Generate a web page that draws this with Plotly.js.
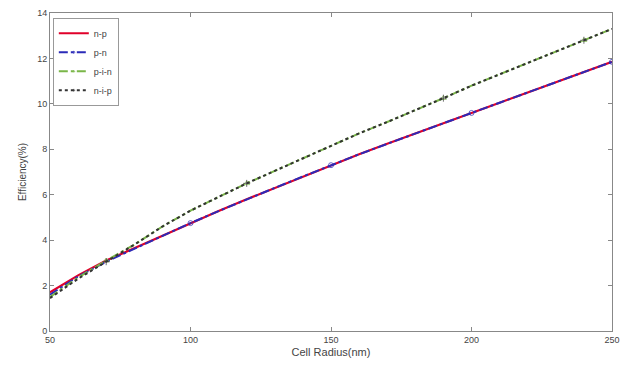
<!DOCTYPE html>
<html><head><meta charset="utf-8">
<script src="https://cdn.plot.ly/plotly-3.0.1.min.js"></script>
<style>html,body{margin:0;padding:0;background:#fff}#c{width:620px;height:365px}</style>
</head><body><div id="c"></div>
<script>
const radius = [50, 60, 70, 80, 90, 100, 110, 120, 130, 140, 150, 160, 170, 180, 190, 200, 210, 220, 230, 240, 250];
const effNP  = [1.7, 2.45, 3.1, 3.65, 4.2, 4.75, 5.28, 5.8, 6.3, 6.8, 7.3, 7.78, 8.24, 8.7, 9.15, 9.6, 10.05, 10.5, 10.95, 11.4, 11.85];
const effPN  = [1.6, 2.4, 3.05, 3.62, 4.2, 4.75, 5.28, 5.8, 6.3, 6.8, 7.3, 7.78, 8.24, 8.7, 9.15, 9.6, 10.05, 10.5, 10.95, 11.4, 11.85];
const effPIN = [1.5, 2.35, 3.1, 3.8, 4.6, 5.3, 5.9, 6.5, 7.05, 7.6, 8.15, 8.7, 9.2, 9.72, 10.25, 10.8, 11.3, 11.8, 12.3, 12.8, 13.3];
const effNIP = [1.45, 2.3, 3.05, 3.8, 4.6, 5.3, 5.9, 6.5, 7.05, 7.6, 8.15, 8.7, 9.2, 9.72, 10.25, 10.8, 11.3, 11.8, 12.3, 12.8, 13.3];
const names = ["n-p", "p-n", "p-i-n", "n-i-p"];
const xTicks = [50, 100, 150, 200, 250];
const yTicks = [0, 2, 4, 6, 8, 10, 12, 14];
const markAtPN = [100, 150, 200, 250];
const markAtPIN = [70, 120, 190, 240];

const traces = [
  {x: radius, y: effNP, name: names[0], mode: 'lines', line: {color: '#e0002a', width: 2.2}},
  {x: radius, y: effPN, name: names[1], mode: 'lines+markers', line: {color: '#2b2bb8', width: 2, dash: 'dashdot'},
   marker: {symbol: 'circle-open', color: '#2b2bb8', size: radius.map(r => markAtPN.includes(r) ? 5 : 0)}},
  {x: radius, y: effPIN, name: names[2], mode: 'lines+markers', line: {color: '#7ab648', width: 2, dash: 'dashdot'},
   marker: {symbol: 'triangle-up-open', color: '#7ab648', size: radius.map(r => markAtPIN.includes(r) ? 5 : 0)}},
  {x: radius, y: effNIP, name: names[3], mode: 'lines+markers', line: {color: '#333333', width: 2, dash: 'dot'},
   marker: {symbol: 'cross-thin-open', color: '#333333', line: {color: '#333', width: 1},
            size: radius.map(r => markAtPIN.includes(r) ? 5 : 0)}}
];

const layout = {
  width: 620, height: 365,
  margin: {l: 50, r: 8, t: 13, b: 34},
  paper_bgcolor: '#fff', plot_bgcolor: '#fff',
  font: {family: 'Liberation Sans, Arial, sans-serif', size: 9, color: '#444'},
  showlegend: true,
  legend: {x: 0.005, y: 0.985, xanchor: 'left', yanchor: 'top', bgcolor: '#fff',
           bordercolor: '#999', borderwidth: 1, font: {size: 9, color: '#444'}, tracegroupgap: 0},
  xaxis: {range: [50, 250], tickvals: xTicks, ticktext: xTicks.map(String), showgrid: false, zeroline: false,
          showline: true, linecolor: '#888', linewidth: 1, mirror: 'ticks', ticks: 'inside', ticklen: 4, tickcolor: '#888',
          title: {text: 'Cell Radius(nm)', font: {size: 11, color: '#444'}, standoff: 4}},
  yaxis: {range: [0, 14], tickvals: yTicks, ticktext: yTicks.map(String), showgrid: false, zeroline: false,
          showline: true, linecolor: '#888', linewidth: 1, mirror: 'ticks', ticks: 'inside', ticklen: 4, tickcolor: '#888',
          title: {text: 'Efficiency(%)', font: {size: 10, color: '#444'}, standoff: 8}}
};
Plotly.newPlot('c', traces, layout, {displayModeBar: false, staticPlot: true});
</script></body></html>
